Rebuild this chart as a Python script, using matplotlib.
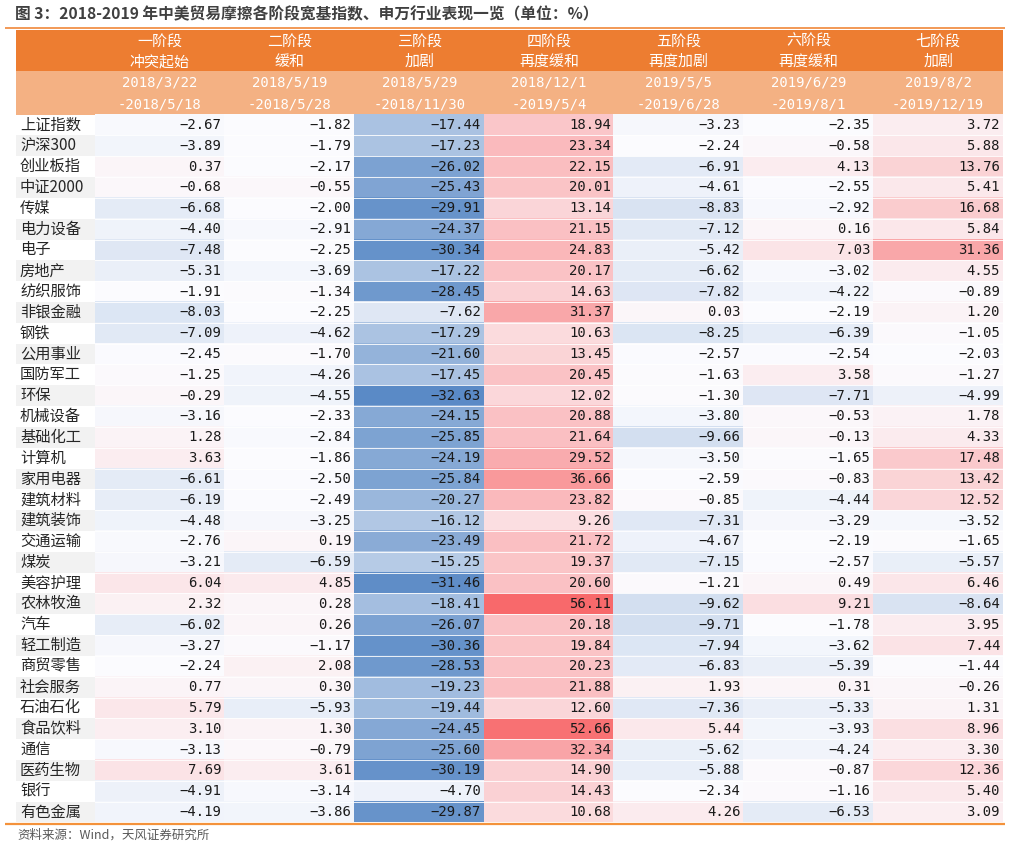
import numpy as np
import matplotlib
matplotlib.use("Agg")
import matplotlib.pyplot as plt
from matplotlib.colors import LinearSegmentedColormap, TwoSlopeNorm
from matplotlib.patches import Rectangle

plt.rcParams['font.family'] = ['Noto Sans CJK SC', 'DejaVu Sans']

title = "图 3：2018-2019 年中美贸易摩擦各阶段宽基指数、申万行业表现一览（单位：%）"
source = "资料来源：Wind，天风证券研究所"

stage_names = ["一阶段", "二阶段", "三阶段", "四阶段", "五阶段", "六阶段", "七阶段"]
stage_desc = ["冲突起始", "缓和", "加剧", "再度缓和", "再度加剧", "再度缓和", "加剧"]
stage_start = ["2018/3/22", "2018/5/19", "2018/5/29", "2018/12/1", "2019/5/5", "2019/6/29", "2019/8/2"]
stage_end = ["-2018/5/18", "-2018/5/28", "-2018/11/30", "-2019/5/4", "-2019/6/28", "-2019/8/1", "-2019/12/19"]

categories = ["上证指数", "沪深300", "创业板指", "中证2000", "传媒", "电力设备", "电子", "房地产",
              "纺织服饰", "非银金融", "钢铁", "公用事业", "国防军工", "环保", "机械设备", "基础化工",
              "计算机", "家用电器", "建筑材料", "建筑装饰", "交通运输", "煤炭", "美容护理", "农林牧渔",
              "汽车", "轻工制造", "商贸零售", "社会服务", "石油石化", "食品饮料", "通信", "医药生物",
              "银行", "有色金属"]

stage1 = [-2.67, -3.89, 0.37, -0.68, -6.68, -4.40, -7.48, -5.31, -1.91, -8.03, -7.09, -2.45,
          -1.25, -0.29, -3.16, 1.28, 3.63, -6.61, -6.19, -4.48, -2.76, -3.21, 6.04, 2.32,
          -6.02, -3.27, -2.24, 0.77, 5.79, 3.10, -3.13, 7.69, -4.91, -4.19]
stage2 = [-1.82, -1.79, -2.17, -0.55, -2.00, -2.91, -2.25, -3.69, -1.34, -2.25, -4.62, -1.70,
          -4.26, -4.55, -2.33, -2.84, -1.86, -2.50, -2.49, -3.25, 0.19, -6.59, 4.85, 0.28,
          0.26, -1.17, 2.08, 0.30, -5.93, 1.30, -0.79, 3.61, -3.14, -3.86]
stage3 = [-17.44, -17.23, -26.02, -25.43, -29.91, -24.37, -30.34, -17.22, -28.45, -7.62, -17.29,
          -21.60, -17.45, -32.63, -24.15, -25.85, -24.19, -25.84, -20.27, -16.12, -23.49, -15.25,
          -31.46, -18.41, -26.07, -30.36, -28.53, -19.23, -19.44, -24.45, -25.60, -30.19, -4.70, -29.87]
stage4 = [18.94, 23.34, 22.15, 20.01, 13.14, 21.15, 24.83, 20.17, 14.63, 31.37, 10.63, 13.45,
          20.45, 12.02, 20.88, 21.64, 29.52, 36.66, 23.82, 9.26, 21.72, 19.37, 20.60, 56.11,
          20.18, 19.84, 20.23, 21.88, 12.60, 52.66, 32.34, 14.90, 14.43, 10.68]
stage5 = [-3.23, -2.24, -6.91, -4.61, -8.83, -7.12, -5.42, -6.62, -7.82, 0.03, -8.25, -2.57,
          -1.63, -1.30, -3.80, -9.66, -3.50, -2.59, -0.85, -7.31, -4.67, -7.15, -1.21, -9.62,
          -9.71, -7.94, -6.83, 1.93, -7.36, 5.44, -5.62, -5.88, -2.34, 4.26]
stage6 = [-2.35, -0.58, 4.13, -2.55, -2.92, 0.16, 7.03, -3.02, -4.22, -2.19, -6.39, -2.54,
          3.58, -7.71, -0.53, -0.13, -1.65, -0.83, -4.44, -3.29, -2.19, -2.57, 0.49, 9.21,
          -1.78, -3.62, -5.39, 0.31, -5.33, -3.93, -4.24, -0.87, -1.16, -6.53]
stage7 = [3.72, 5.88, 13.76, 5.41, 16.68, 5.84, 31.36, 4.55, -0.89, 1.20, -1.05, -2.03,
          -1.27, -4.99, 1.78, 4.33, 17.48, 13.42, 12.52, -3.52, -1.65, -5.57, 6.46, -8.64,
          3.95, 7.44, -1.44, -0.26, 1.31, 8.96, 3.30, 12.36, 5.40, 3.09]

values = np.array([stage1, stage2, stage3, stage4, stage5, stage6, stage7]).T  # rows x cols

# ---- layout (pixels) ----
W, H = 1010, 846
fig = plt.figure(figsize=(W / 100, H / 100), dpi=100)
ax = fig.add_axes([0, 0, 1, 1])
ax.set_xlim(0, W)
ax.set_ylim(H, 0)
ax.axis('off')

left = 16
label_w = 79
col_w = (1003 - left - label_w) / 7
x_data0 = left + label_w
x_right = x_data0 + 7 * col_w
h1_top, h1_bot = 30, 71
h2_bot = 114.6
n = len(categories)
row_h = 20.82
y_bottom = h2_bot + n * row_h

orange = '#ED7D31'
light_orange = '#F4B183'

# title
ax.text(15, 14, title, fontsize=11.3, fontweight='bold', color='#404040', va='center', ha='left')
ax.plot([5, 1005], [28.5, 28.5], color='#F0883A', lw=1.2, solid_capstyle='butt')

# header backgrounds
ax.add_patch(Rectangle((left, h1_top), x_right - left, h1_bot - h1_top, color=orange, lw=0))
ax.add_patch(Rectangle((left, h1_bot), x_right - left, h2_bot - h1_bot, color=light_orange, lw=0))

for j in range(7):
    cx = x_data0 + (j + 0.5) * col_w
    ax.text(cx, 42, stage_names[j], color='white', fontsize=10.8, ha='center', va='center')
    ax.text(cx, 62, stage_desc[j], color='white', fontsize=10.8, ha='center', va='center')
    ax.text(cx, 83, stage_start[j], color='white', fontsize=10, ha='center', va='center',
            family='DejaVu Sans Mono')
    ax.text(cx, 104, stage_end[j], color='white', fontsize=10, ha='center', va='center',
            family='DejaVu Sans Mono')

# label column alternating backgrounds
for i, name in enumerate(categories):
    y0 = h2_bot + i * row_h
    if i % 2 == 1:
        ax.add_patch(Rectangle((left, y0), label_w, row_h, color='#F2F2F2', lw=0))
    ax.text(left + 4, y0 + row_h / 2, name, fontsize=11, color='#262626', ha='left', va='center')

# heatmap
cmap = LinearSegmentedColormap.from_list('bwr_excel', ['#5A8AC6', '#FCFCFF', '#F8696B'])
norm = TwoSlopeNorm(vmin=values.min(), vcenter=float(np.median(values)), vmax=values.max())
ax.imshow(values, cmap=cmap, norm=norm, aspect='auto', interpolation='nearest',
          extent=[x_data0, x_right, y_bottom, h2_bot], zorder=1)
ax.set_xlim(0, W)
ax.set_ylim(H, 0)

# thin white row separators
for i in range(1, n):
    y = h2_bot + i * row_h
    ax.plot([x_data0, x_right], [y, y], color='white', lw=0.6, zorder=2)

for i in range(n):
    yc = h2_bot + (i + 0.5) * row_h
    for j in range(7):
        v = values[i, j]
        s = f"{v:.2f}".replace('-', '−')
        ax.text(x_data0 + (j + 1) * col_w - 3, yc, s, fontsize=10, color='#1a1a1a',
                ha='right', va='center', family='DejaVu Sans Mono', zorder=3)

# bottom line and source
ax.plot([5, 1005], [y_bottom + 2, y_bottom + 2], color='#F4923B', lw=1.6, solid_capstyle='butt')
ax.text(17, 835, source, fontsize=9, color='#595959', ha='left', va='center')

fig.savefig('out.png', dpi=100)
